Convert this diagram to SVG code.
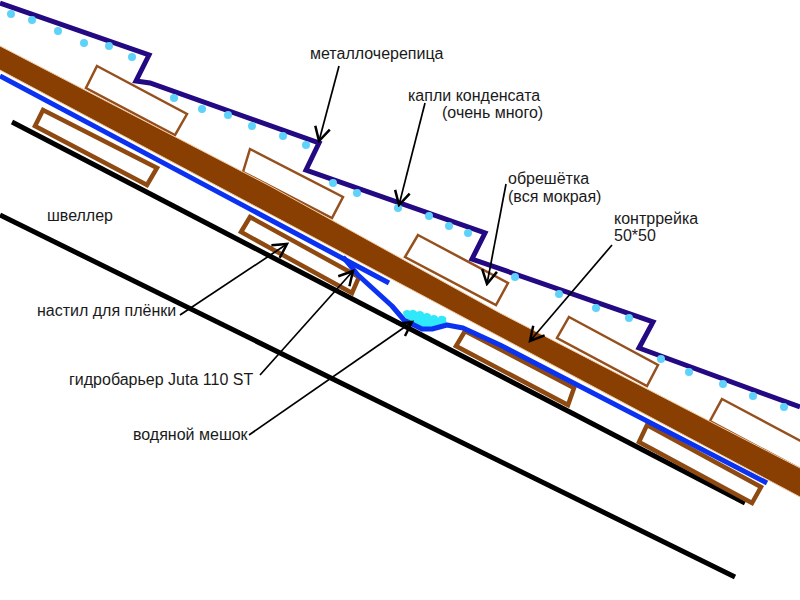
<svg xmlns="http://www.w3.org/2000/svg" width="800" height="600" viewBox="0 0 800 600">
<style>
text{font-family:"Liberation Sans",Arial,sans-serif;font-size:16px;fill:#1a1a1a}
.board{fill:#fff;stroke:#96501e;stroke-width:2.5}
.base{fill:#fff;stroke:#8f4a12;stroke-width:4.5}
.drop{fill:#5fd2fa}
.steel{stroke:#000;stroke-width:5;fill:none}
.film{stroke:#0a32f0;stroke-width:5;fill:none;stroke-linejoin:round}
.lead{stroke:#000;stroke-width:1.7;fill:none;marker-end:url(#a)}
</style>
<defs><marker id="a" markerUnits="userSpaceOnUse" markerWidth="20" markerHeight="20" refX="14" refY="8" orient="auto" viewBox="0 0 16 16"><path d="M3 2L14 8L3 14" fill="none" stroke="#000" stroke-width="2"/></marker></defs>
<rect width="800" height="600" fill="#fff"/>
<g id="channel"><path class="steel" d="M12 122L745 503"/><path class="steel" d="M0 215L735 577"/></g>
<g id="battens">
<polygon class="base" points="43,110 157,168 147,185 35,126"/>
<polygon class="base" points="250,217 359,277 352,293 241,232"/>
<polygon class="base" points="465,331 574,388 568,405 456,346"/>
<polygon class="base" points="647,425 761,487 752,503 639,442"/>
<polygon class="board" points="97,66 187,114 175,135 86,88"/>
<polygon class="board" points="250,149 343,197 332,218 243,172"/>
<polygon class="board" points="418,235 508,283 496,305 405,257"/>
<polygon class="board" points="569,317 658,365 647,386 557,338"/>
<polygon class="board" points="722,399 812,447 800,469 710,421"/>
</g>
<g id="water" fill="#2fe8fa"><path d="M404 316L403 313A4 3 0 0 1 410 311A4 3 0 0 1 417 312A4 3 0 0 1 424 314A4 3 0 0 1 431 316A4 3 0 0 1 438 318A4 3 0 0 1 446 320L447 324L430 328L420 327L410 321Z"/></g>
<g id="film">
<path class="film" d="M0 76L389 283"/>
<path class="film" d="M343 257L358 275L392 306L404 320L422 329L432 329L447 325L463 328L500 345L767 483"/>
</g>
<g id="counter-batten"><polygon fill="#8a3f02" stroke="#f0c8a0" stroke-width="1" points="-2,45 270,186 500,313 802,469 802,498 -2,69"/></g>
<g id="sheet"><path fill="none" stroke="#240a82" stroke-width="5" d="M0 3L149 55L136 81L150 83L319 143L306 170L485 233L472 259L653 322L639 348L800 407"/></g>
<g id="drops" class="drop">
<circle cx="11" cy="14" r="4"/><circle cx="32" cy="20" r="4"/><circle cx="58" cy="31" r="4"/><circle cx="84" cy="43" r="4"/><circle cx="109" cy="46" r="4"/><circle cx="132" cy="57" r="4"/>
<circle cx="174" cy="98" r="4"/><circle cx="202" cy="109" r="4"/><circle cx="228" cy="115" r="4"/><circle cx="252" cy="126" r="4"/><circle cx="283" cy="136" r="4"/><circle cx="306" cy="145" r="4"/>
<circle cx="333" cy="183" r="4"/><circle cx="357" cy="193" r="4"/><circle cx="398" cy="208" r="4"/><circle cx="429" cy="216" r="4"/><circle cx="449" cy="226" r="4"/><circle cx="468" cy="233" r="4"/>
<circle cx="515" cy="277" r="4"/><circle cx="559" cy="294" r="4"/><circle cx="596" cy="308" r="4"/><circle cx="629" cy="318" r="4"/>
<circle cx="661" cy="359" r="4"/><circle cx="689" cy="372" r="4"/><circle cx="723" cy="384" r="4"/><circle cx="753" cy="396" r="4"/><circle cx="784" cy="407" r="4"/>
</g>
<g id="connectors">
<path class="lead" d="M339 66L319 141"/>
<path class="lead" d="M425 103L399 205"/>
<path class="lead" d="M506 184L487 284"/>
<path class="lead" d="M612 245L530 341"/>
<path class="lead" d="M180 315L287 244"/>
<path class="lead" d="M260 375L353 271"/>
<path class="lead" d="M249 435L412 322"/>
</g>
<g id="labels">
<text x="310" y="59">металлочерепица</text>
<text x="408" y="101">капли конденсата</text>
<text x="442" y="118">(очень много)</text>
<text x="508" y="184">обрешётка</text>
<text x="508" y="202">(вся мокрая)</text>
<text x="614" y="224">контррейка</text>
<text x="614" y="241">50*50</text>
<text x="47" y="221">швеллер</text>
<text x="37" y="316">настил для плёнки</text>
<text x="69" y="385">гидробарьер Juta 110 ST</text>
<text x="133" y="440">водяной мешок</text>
</g>
</svg>
